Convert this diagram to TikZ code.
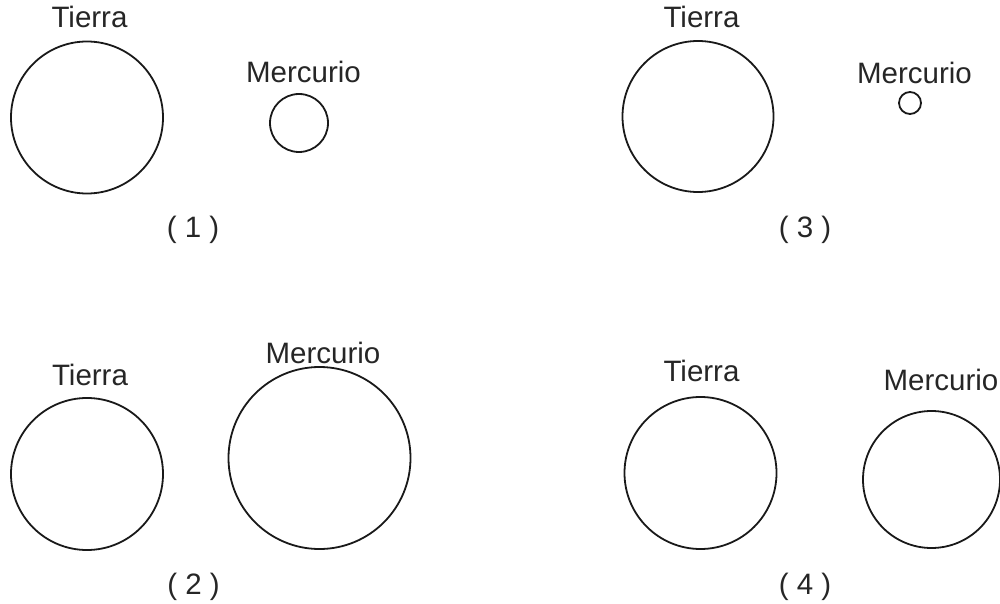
\documentclass[tikz,border=0pt]{standalone}
\usepackage{fontspec}
\setmainfont{Liberation Sans}
\begin{document}
\begin{tikzpicture}[x=1pt,y=-1pt,
  planet/.style={circle,draw=black!90,line width=1.8pt,inner sep=0pt,minimum size=#1},
  lbl/.style={anchor=base,inner sep=0pt,font=\fontsize{29.5}{32}\selectfont,text=black!85}]
\useasboundingbox (0,0) rectangle (1000,604);
% Panel 1
\node[planet=152pt] (t1) at (87,117.5) {};
\node[lbl] (t1l) at (89.5,28) {Tierra};
\node[planet=58pt] (m1) at (299,123) {};
\node[lbl] (m1l) at (303.5,83) {Mercurio};
\node[lbl] (n1) at (193,237) {( 1 )};
% Panel 3
\node[planet=151pt] (t3) at (698,116.5) {};
\node[lbl] (t3l) at (701.5,28) {Tierra};
\node[planet=22pt] (m3) at (910,103) {};
\node[lbl] (m3l) at (914.5,84) {Mercurio};
\node[lbl] (n3) at (805,237) {( 3 )};
% Panel 2
\node[planet=152pt] (t2) at (87,474) {};
\node[lbl] (t2l) at (90,385) {Tierra};
\node[planet=182pt] (m2) at (319.5,458) {};
\node[lbl] (m2l) at (323,363) {Mercurio};
\node[lbl] (n2) at (193.5,594) {( 2 )};
% Panel 4
\node[planet=152pt] (t4) at (700.5,473) {};
\node[lbl] (t4l) at (701.5,381) {Tierra};
\node[planet=137pt] (m4) at (931.5,479.5) {};
\node[lbl] (m4l) at (941,390) {Mercurio};
\node[lbl] (n4) at (805,594) {( 4 )};
\end{tikzpicture}
\end{document}
